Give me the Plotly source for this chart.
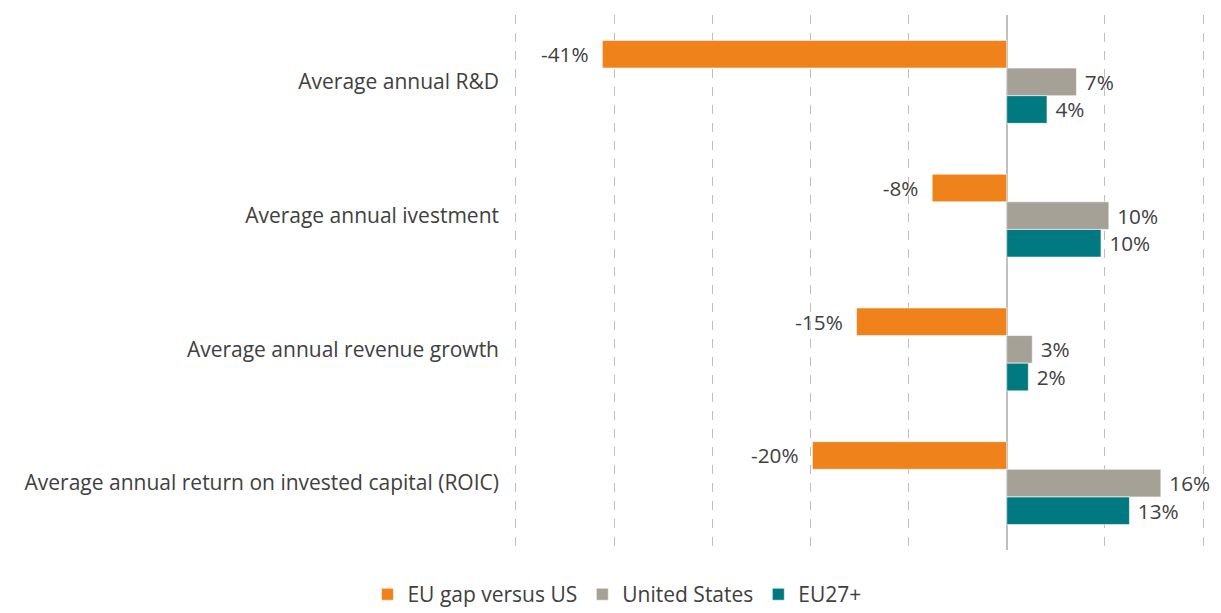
import plotly.graph_objects as go

categories = [
    "Average annual R&D",
    "Average annual ivestment",
    "Average annual revenue growth",
    "Average annual return on invested capital (ROIC)",
]
eu_gap = [-41.2, -7.6, -15.3, -19.8]
us = [7.1, 10.4, 2.6, 15.7]
eu27 = [4.1, 9.6, 2.2, 12.5]
eu_gap_labels = ["-41%", "-8%", "-15%", "-20%"]
us_labels = ["7%", "10%", "3%", "16%"]
eu27_labels = ["4%", "10%", "2%", "13%"]

font_family = "Open Sans, sans-serif"
text_color = "#404040"
fs = 21

fig = go.Figure()
series = [
    ("EU gap versus US", eu_gap, eu_gap_labels, "#EF821B", "%{text}  "),
    ("United States", us, us_labels, "#A5A196", " %{text}"),
    ("EU27+", eu27, eu27_labels, "#007A80", " %{text}"),
]
for name, vals, labels, color, tmpl in series:
    fig.add_trace(go.Bar(
        name=name, y=categories, x=vals, orientation="h",
        marker=dict(color=color, line=dict(color="rgba(255,255,255,0.6)", width=1)),
        text=labels, texttemplate=tmpl, textposition="outside", cliponaxis=False,
        textfont=dict(size=fs, color=text_color, family=font_family),
        hoverinfo="skip",
    ))

fig.update_layout(
    width=1205, height=605,
    barmode="group", bargap=0.38, bargroupgap=0,
    plot_bgcolor="white", paper_bgcolor="white",
    margin=dict(l=503, r=5, t=7, b=63, autoexpand=False),
    font=dict(family=font_family, size=fs, color=text_color),
    xaxis=dict(
        range=[-50.5, 20.5], dtick=10, tick0=0, showticklabels=False,
        showgrid=True, gridcolor="#BFBFBF", griddash="dash", gridwidth=1,
        zeroline=True, zerolinecolor="#BFBFBF", zerolinewidth=1.5,
        showline=False,
    ),
    yaxis=dict(
        autorange="reversed", showgrid=False, showline=False,
        ticks="", ticklabelstandoff=11,
        tickfont=dict(size=fs, color=text_color, family=font_family),
    ),
    legend=dict(
        orientation="h", x=0.152, xanchor="center",
        y=-0.045, yanchor="top",
        font=dict(size=fs, color=text_color, family=font_family),
        itemwidth=30, traceorder="normal",
    ),
)
fig.write_html("out.html")
